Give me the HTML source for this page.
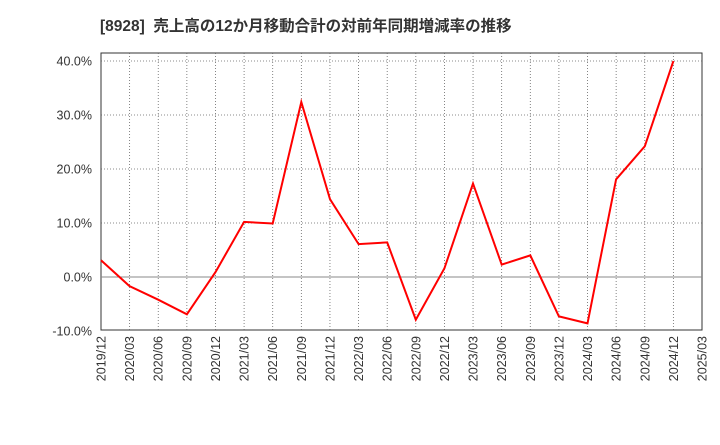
<!DOCTYPE html>
<html><head><meta charset="utf-8"><style>
body{margin:0;background:#fff;font-family:"Liberation Sans","Noto Sans CJK JP",sans-serif;}
</style></head><body>
<svg id="c" width="720" height="440" xmlns="http://www.w3.org/2000/svg">
<text x="100" y="31" font-size="15.5" font-weight="bold" fill="#333" xml:space="preserve" font-family="Liberation Sans, Noto Sans CJK JP, sans-serif">[8928]  売上高の12か月移動合計の対前年同期増減率の推移</text>
<rect x="101" y="53" width="601" height="277" fill="#fff" stroke="#333" stroke-width="1"/>
<g id="grid"></g><g id="axes"></g><g id="series"></g>
</svg>
<script>
const categories=["2019/12","2020/03","2020/06","2020/09","2020/12","2021/03","2021/06","2021/09","2021/12","2022/03","2022/06","2022/09","2022/12","2023/03","2023/06","2023/09","2023/12","2024/03","2024/06","2024/09","2024/12","2025/03"];
const values=[3.1,-1.7,-4.2,-6.9,0.9,10.2,9.9,32.4,14.4,6.1,6.4,-7.9,1.6,17.3,2.3,4.0,-7.3,-8.6,18.1,24.2,40.0];
const yTicks=[-10,0,10,20,30,40];
const yTickLabels=["-10.0%","0.0%","10.0%","20.0%","30.0%","40.0%"];
const NS="http://www.w3.org/2000/svg";
const x0=101,x1=702;
const xs=i=>x0+(x1-x0)*i/(categories.length-1);
const ys=v=>277-v*5.4;
function mk(t,a,p){const e=document.createElementNS(NS,t);for(const k in a)e.setAttribute(k,a[k]);p.appendChild(e);return e;}
const grid=document.getElementById('grid'),axes=document.getElementById('axes'),ser=document.getElementById('series');
categories.forEach((c,i)=>{
  const x=xs(i);
  if(i>0&&i<categories.length-1){const l=mk('line',{x1:x,x2:x,y1:53,y2:330,stroke:'#666','stroke-width':0.8,'stroke-dasharray':'1,2'},grid);
  
  }
  const t=mk('text',{x:0,y:0,'font-size':12.5,fill:'#333','text-anchor':'end',transform:`translate(${x+4.5},336) rotate(-90)`},axes);
  t.textContent=c;
  
  
});
yTicks.forEach((v,i)=>{
  const y=ys(v);
  if(v===0){const l=mk('line',{x1:x0,x2:x1,y1:y,y2:y,stroke:'#888','stroke-width':1},grid);
  
  }
  else if(v!==-10){const l=mk('line',{x1:x0,x2:x1,y1:y,y2:y,stroke:'#666','stroke-width':0.8,'stroke-dasharray':'1,2'},grid);
  
  }
  const t=mk('text',{x:92,y:y+4.5,'font-size':12.5,fill:'#333','text-anchor':'end'},axes);
  t.textContent=yTickLabels[i];
  
  
});
const pts=values.map((v,i)=>xs(i).toFixed(1)+','+ys(v).toFixed(1)).join(' ');
const pl=mk('polyline',{points:pts,fill:'none',stroke:'#f00','stroke-width':2},ser);


</script>
</body></html>
